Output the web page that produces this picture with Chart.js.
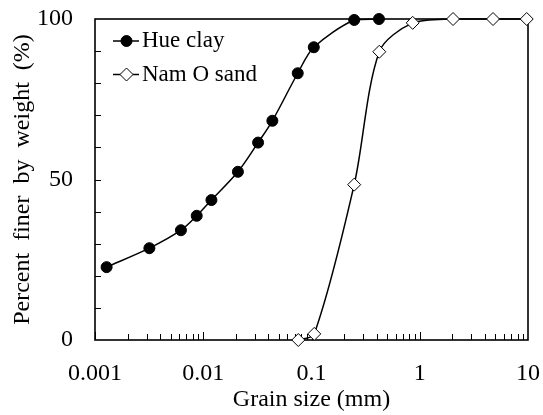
<!DOCTYPE html>
<html><head><meta charset="utf-8">
<script src="https://cdn.jsdelivr.net/npm/chart.js@4/dist/chart.umd.min.js"></script>
<style>html,body{margin:0;padding:0;background:#fff}#wrap{width:543px;height:415px}</style>
</head><body><div id="wrap"><canvas id="c" width="543" height="415"></canvas></div>
<script>
// ---- data ----
const seriesNames = ['Hue clay', 'Nam O sand'];
const hueClaySize  = [0.00128, 0.00318, 0.00622, 0.0087, 0.0119, 0.0209, 0.0321, 0.0435, 0.0746, 0.105, 0.248, 0.42];
const hueClayFiner = [22.7, 28.6, 34.2, 38.7, 43.6, 52.4, 61.5, 68.3, 83.1, 91.2, 99.7, 100];
const namOSize  = [0.0755, 0.106, 0.248, 0.423, 0.861, 2.03, 4.75, 9.73];
const namOFiner = [0, 1.9, 48.4, 89.8, 98.8, 100, 100, 100];
const xTickValues = [0.001, 0.01, 0.1, 1, 10];
const xTickLabels = ['0.001', '0.01', '0.1', '1', '10'];
const yTickValues = [0, 50, 100];
const yTickLabels = ['0', '50', '100'];
const yMinorStep = 10;

const FONT = "'Liberation Serif', 'Times New Roman', serif";
Chart.defaults.font.family = FONT;
Chart.defaults.color = '#000';

const toPts = (xs, ys) => xs.map((v, i) => ({x: v, y: ys[i]}));

const framePlugin = {
  id: 'frame',
  beforeDatasetsDraw(chart) {
    const {ctx, chartArea: a, scales: {x, y}} = chart;
    ctx.save();
    ctx.strokeStyle = '#000';
    ctx.lineWidth = 1.6;
    ctx.strokeRect(a.left, a.top, a.right - a.left, a.bottom - a.top);
    ctx.lineWidth = 1;
    ctx.beginPath();
    const decMin = Math.log10(xTickValues[0]), decMax = Math.log10(xTickValues[xTickValues.length - 1]);
    for (let d = decMin; d < decMax; d++) {
      for (let m = 1; m < 10; m++) {
        const px = Math.round(x.getPixelForValue(m * Math.pow(10, d))) + 0.5;
        const len = m === 1 ? 8 : 6;
        ctx.moveTo(px, a.bottom); ctx.lineTo(px, a.bottom - len);
      }
    }
    for (let v = y.min + yMinorStep; v < y.max; v += yMinorStep) {
      const py = Math.round(y.getPixelForValue(v)) + 0.5;
      ctx.moveTo(a.left, py); ctx.lineTo(a.left + 6, py);
    }
    ctx.stroke();
    ctx.restore();
  }
};

const legendPlugin = {
  id: 'insideLegend',
  afterDatasetsDraw(chart) {
    const {ctx} = chart;
    const rows = [41, 74.5];
    ctx.save();
    chart.data.datasets.forEach((ds, i) => {
      const yy = rows[i];
      ctx.strokeStyle = '#000'; ctx.lineWidth = 1.5;
      ctx.beginPath(); ctx.moveTo(113, yy); ctx.lineTo(139, yy); ctx.stroke();
      ctx.fillStyle = ds.pointBackgroundColor; ctx.strokeStyle = '#000'; ctx.lineWidth = 1;
      Chart.helpers.drawPoint(ctx, {pointStyle: ds.pointStyle, radius: ds.pointRadius, borderWidth: 1}, 126.5, yy);
      ctx.fillStyle = '#000';
      ctx.font = '23px ' + FONT;
      ctx.textBaseline = 'middle'; ctx.textAlign = 'left';
      ctx.fillText(ds.label, 142, yy);
    });
    ctx.restore();
  }
};

new Chart(document.getElementById('c'), {
  type: 'line',
  data: {
    datasets: [
      {label: seriesNames[0], data: toPts(hueClaySize, hueClayFiner), borderColor: '#000', borderWidth: 1.5,
       pointStyle: 'circle', pointRadius: 5.5, pointBackgroundColor: '#000', pointBorderColor: '#000', pointBorderWidth: 1,
       tension: 0.3, clip: false},
      {label: seriesNames[1], data: toPts(namOSize, namOFiner), borderColor: '#000', borderWidth: 1.5,
       pointStyle: 'rectRot', pointRadius: 6.5, pointBackgroundColor: '#fff', pointBorderColor: '#000', pointBorderWidth: 1,
       tension: 0.3, clip: false}
    ]
  },
  options: {
    responsive: false, animation: false,
    layout: {padding: {top: 19, right: 15, left: 0, bottom: 0}, autoPadding: false},
    plugins: {legend: {display: false}, tooltip: {enabled: false}},
    scales: {
      x: {
        type: 'logarithmic', min: xTickValues[0], max: xTickValues[xTickValues.length - 1],
        afterBuildTicks: s => { s.ticks = xTickValues.map(v => ({value: v})); },
        afterFit: s => { s.height = 75; s.paddingLeft = 0; s.paddingRight = 0; },
        grid: {display: false, drawTicks: false}, border: {display: false},
        ticks: {autoSkip: false, maxRotation: 0, padding: 19, font: {size: 24}, color: '#000',
                callback: v => { const i = xTickValues.indexOf(v); return i >= 0 ? xTickLabels[i] : ''; }},
        title: {display: true, text: 'Grain size (mm)', font: {size: 24}, color: '#000', padding: 1}
      },
      y: {
        type: 'linear', min: 0, max: 100,
        afterBuildTicks: s => { s.ticks = yTickValues.map(v => ({value: v})); },
        afterFit: s => { s.width = 95; s.paddingTop = 0; s.paddingBottom = 0; },
        grid: {display: false, drawTicks: false}, border: {display: false},
        ticks: {padding: 22, font: {size: 24}, color: '#000',
                callback: v => { const i = yTickValues.indexOf(v); return i >= 0 ? yTickLabels[i] : ''; }},
        title: {display: true, text: 'Percent  finer  by  weight  (%)', font: {size: 24}, color: '#000', padding: 8}
      }
    }
  },
  plugins: [framePlugin, legendPlugin]
});
</script></body></html>
